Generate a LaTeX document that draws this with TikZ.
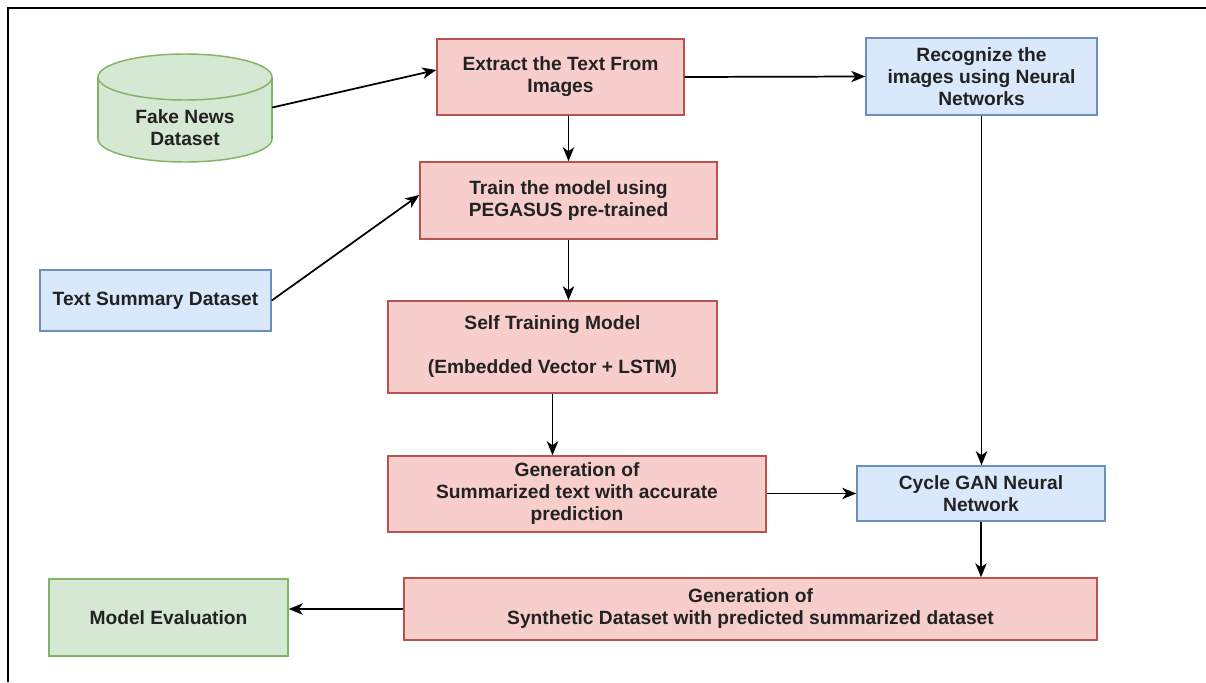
\documentclass[tikz,border=0pt]{standalone}
\usepackage{fontspec}
\setmainfont{Liberation Sans}
\usetikzlibrary{arrows.meta,calc}

\definecolor{redfill}{HTML}{F8CECC}
\definecolor{redline}{HTML}{B85450}
\definecolor{bluefill}{HTML}{DAE8FC}
\definecolor{blueline}{HTML}{6C8EBF}
\definecolor{greenfill}{HTML}{D5E8D4}
\definecolor{greenline}{HTML}{82B366}
\definecolor{ink}{HTML}{222222}

\begin{document}
\begin{tikzpicture}[
  x=0.75pt, y=-0.75pt,
  txt/.style={font=\fontsize{14.4}{16.5}\selectfont\bfseries, text=ink, align=center, inner sep=0pt},
  bx/.style 2 args={minimum width=#1*0.75pt, minimum height=#2*0.75pt},
  boxbase/.style={txt, rectangle, line width=1.1pt},
  redbox/.style={boxbase, fill=redfill, draw=redline},
  bluebox/.style={boxbase, fill=bluefill, draw=blueline},
  greenbox/.style={boxbase, fill=greenfill, draw=greenline},
  flow/.style={draw=black, line width=1.3pt, -{Stealth[length=10.5pt, width=8.5pt, inset=3pt]}}
]
\useasboundingbox (0,0) rectangle (1206,682);
\fill[white] (0,0) rectangle (1206,682);

% frame
\draw[line width=1.5pt, black] (1206,8) -- (8,8) -- (8,682);

% Fake News Dataset cylinder
\filldraw[fill=greenfill, draw=greenline, line width=1.1pt] (185,139) ellipse [x radius=87, y radius=23];
\fill[greenfill] (98,77) rectangle (272,139);
\draw[greenline, line width=1.1pt] (98,77) -- (98,139) (272,77) -- (272,139);
\filldraw[fill=greenfill, draw=greenline, line width=1.1pt] (185,77) ellipse [x radius=87, y radius=23];
\node[bx={174}{109}, inner sep=0pt] (fake) at (185,107.5) {};
\node[txt] (fakelbl) at (185,128) {Fake News\\Dataset};

% process boxes
\node[redbox, bx={247}{76}] (extract) at (560.5,77) {Extract the Text From\\Images};
\node[bluebox, bx={231}{77}] (recog) at (981.5,76.5) {Recognize the\\images using Neural\\Networks};
\node[redbox, bx={297}{77}] (train) at (568.5,200.5) {Train the model using\\PEGASUS pre-trained};
\node[bluebox, bx={231}{61}] (tsum) at (155.5,300.5) {Text Summary Dataset};
\node[redbox, bx={329}{92}] (self) at (552.5,347) {Self Training Model\\[16.5pt](Embedded Vector + LSTM)};
\node[redbox, bx={378}{76}] (gen) at (577,494) {Generation of\\Summarized text with accurate\\prediction};
\node[bluebox, bx={248}{55}] (cycle) at (981,493.5) {Cycle GAN Neural\\Network};
\node[redbox, bx={693}{62}] (synth) at (750.5,609) {Generation of\\Synthetic Dataset with predicted summarized dataset};
\node[greenbox, bx={239}{77}] (meval) at (168.5,617.5) {Model Evaluation};

% connectors
\draw[flow] (fake.east) -- ($(extract.north west)!0.41!(extract.south west)$);
\draw[flow] (extract.east) -- (recog.west);
\draw[flow] (train.north |- extract.south) -- (train.north);
\draw[flow] (tsum.east) -- ($(train.north west)!0.43!(train.south west)$);
\draw[flow] (train.south) -- (train.south |- self.north);
\draw[flow] (self.south) -- (self.south |- gen.north);
\draw[flow] (gen.east |- cycle.west) -- (cycle.west);
\draw[flow] (recog.south) -- (recog.south |- cycle.north);
\draw[flow] (cycle.south) -- (cycle.south |- synth.north);
\draw[flow] (synth.west) -- (synth.west -| meval.east);
\end{tikzpicture}
\end{document}
